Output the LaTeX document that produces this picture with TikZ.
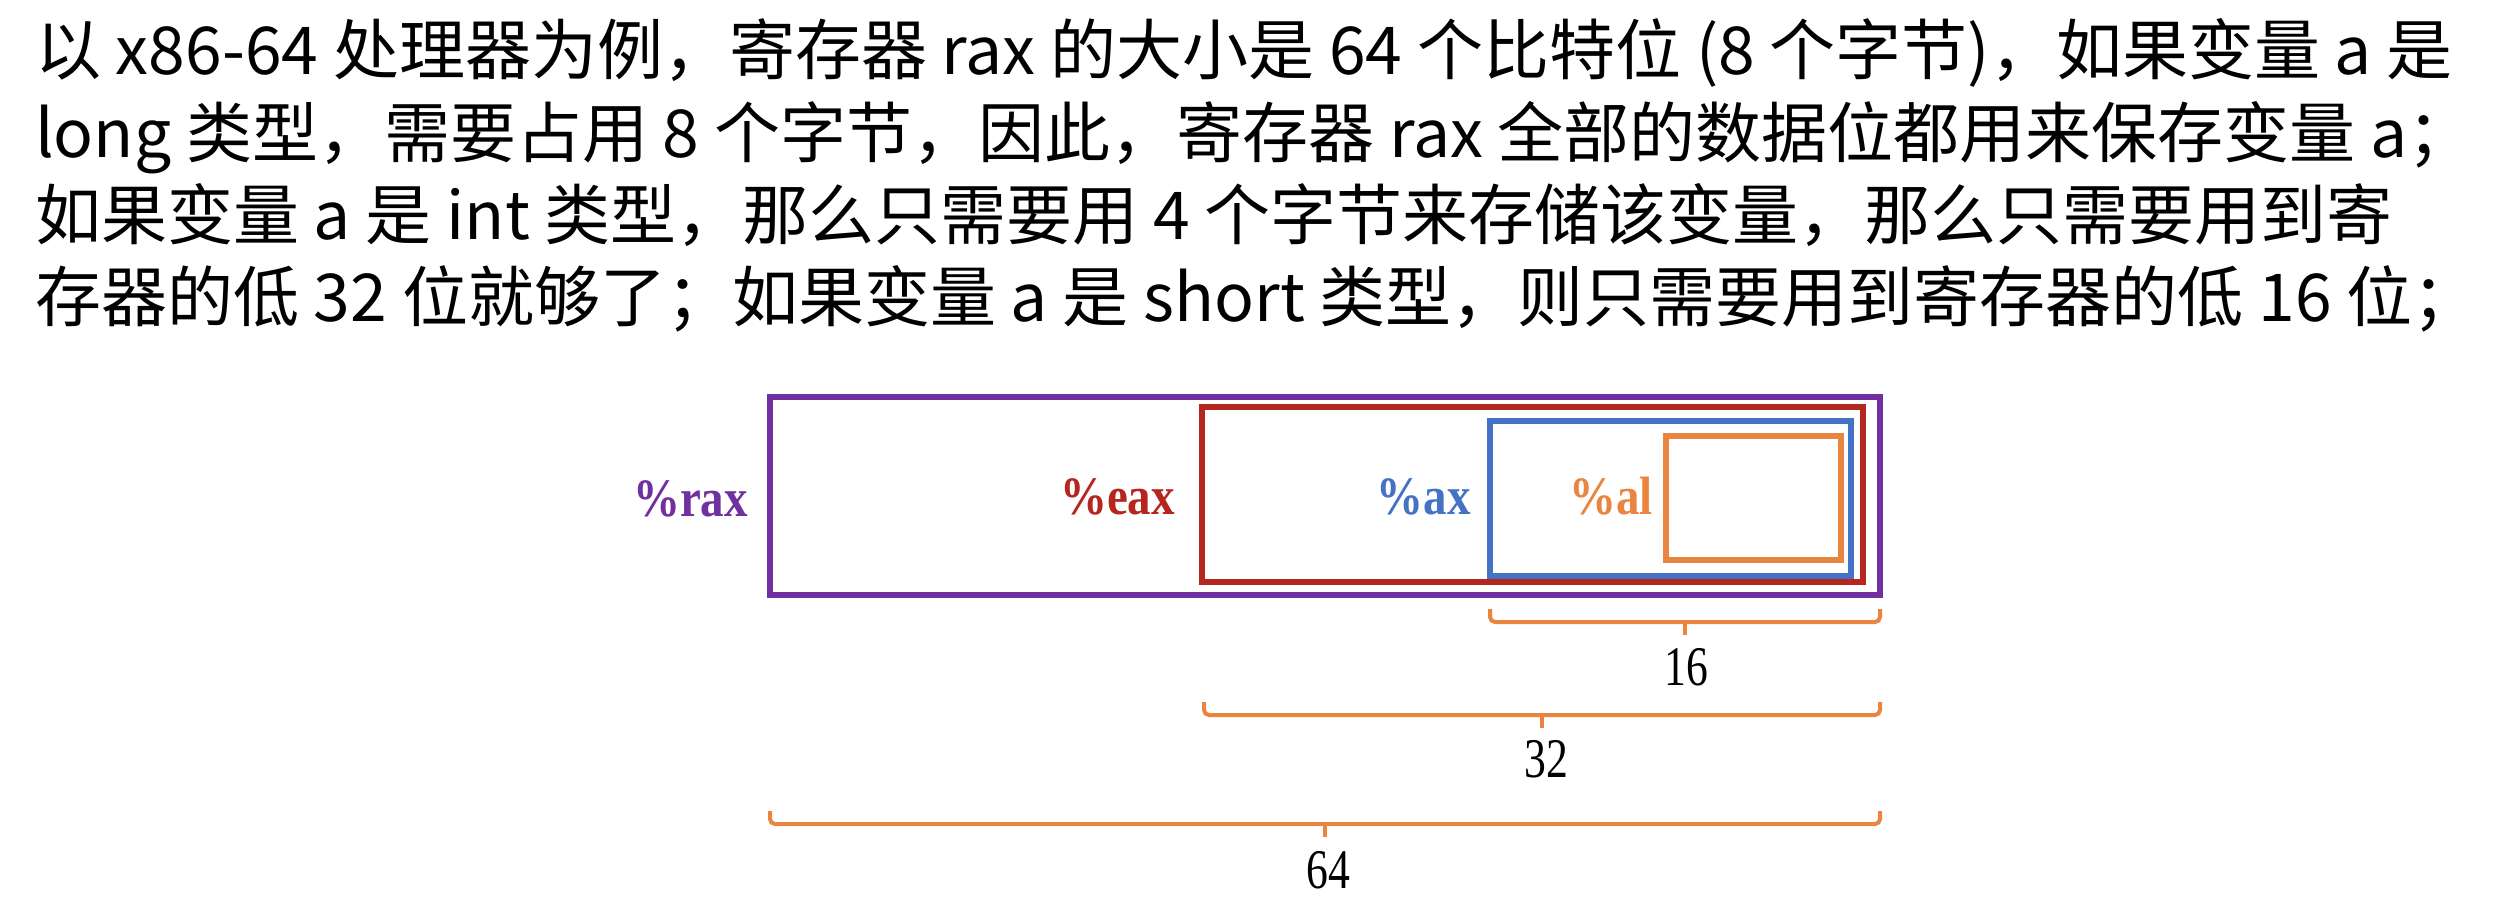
\documentclass[tikz,border=0pt]{standalone}
\usepackage{fontspec}
\newfontfamily\cjk{Noto Sans CJK SC}
\newfontfamily\lserif{Liberation Serif}
\definecolor{regpurple}{HTML}{7030A0}
\definecolor{regred}{HTML}{B5261E}
\definecolor{regblue}{HTML}{4472C4}
\definecolor{regorange}{HTML}{EA8540}
\begin{document}
\begin{tikzpicture}[x=1pt,y=-1pt,
  para/.style={anchor=base west,inner sep=0pt,font=\cjk\fontsize{66}{80}\selectfont},
  reglabel/.style={anchor=base east,inner sep=0pt,font=\lserif\bfseries\fontsize{54}{64}\selectfont,xscale=0.87},
  regbox/.style={line width=6.5pt},
  brace/.style={draw=regorange,line width=4pt,rounded corners=5pt},
  bracetick/.style={draw=regorange,line width=4pt},
  num/.style={anchor=base,inner sep=0pt,font=\lserif\fontsize{56}{64}\selectfont,xscale=0.78}]
\useasboundingbox (0,0) rectangle (2502,914);
% paragraph
\node[para] (l1) at (35,74) {以 x86-64 处理器为例，寄存器 rax 的大小是 64 个比特位 (8 个字节)，如果变量 a 是};
\node[para] (l2) at (35,157) {long 类型，需要占用 8 个字节，因此，寄存器 rax 全部的数据位都用来保存变量 a；};
\node[para] (l3) at (35,239) {如果变量 a 是 int 类型，那么只需要用 4 个字节来存储该变量，那么只需要用到寄};
\node[para] (l4) at (35,321) {存器的低 32 位就够了；如果变量 a 是 short 类型，则只需要用到寄存器的低 16 位；};
% registers
\draw[regbox,draw=regpurple] (770,397) rectangle (1880,595);
\draw[regbox,draw=regred] (1202,407) rectangle (1863,582);
\draw[regbox,draw=regblue] (1490,421) rectangle (1851,576);
\draw[regbox,draw=regorange] (1666,436) rectangle (1841,560);
\node[reglabel,text=regpurple] (rax) at (748,516) {\%rax};
\node[reglabel,text=regred] (eax) at (1175,514) {\%eax};
\node[reglabel,text=regblue] (ax) at (1471,514) {\%ax};
\node[reglabel,text=regorange] (al) at (1653,514) {\%al};
% braces
\coordinate (b16a) at (1490,609); \coordinate (b16b) at (1880,609);
\coordinate (b32a) at (1204,702); \coordinate (b32b) at (1880,702);
\coordinate (b64a) at (770,811); \coordinate (b64b) at (1880,811);
\draw[brace] (b16a) -- ++(0,13) -| (b16b);
\draw[bracetick] (1685,622) -- (1685,635);
\draw[brace] (b32a) -- ++(0,13) -| (b32b);
\draw[bracetick] (1542,715) -- (1542,728);
\draw[brace] (b64a) -- ++(0,13) -| (b64b);
\draw[bracetick] (1325,824) -- (1325,837);
\node[num] (n16) at (1686,685) {16};
\node[num] (n32) at (1546,777) {32};
\node[num] (n64) at (1328,888) {64};
\end{tikzpicture}
\end{document}
